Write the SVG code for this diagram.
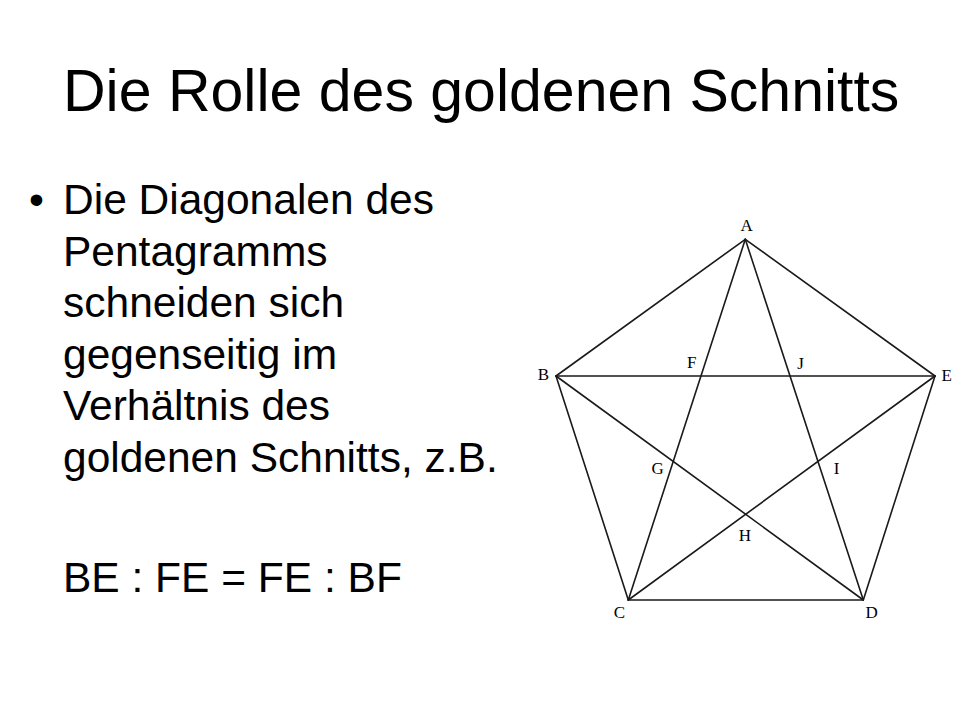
<svg xmlns="http://www.w3.org/2000/svg" width="960" height="720" viewBox="0 0 960 720">
<style>
.title{font-family:"Liberation Sans",Arial,sans-serif;font-size:59px;fill:#000}
.body{font-family:"Liberation Sans",Arial,sans-serif;font-size:42.5px;fill:#000}
.lbl{font-family:"Liberation Serif","Times New Roman",serif;font-size:17px;fill:#000;text-anchor:middle}
.edge{stroke:#1a1a1a;stroke-width:1.6;fill:none;stroke-linecap:round}
</style>
<rect width="960" height="720" fill="#fff"/>
<text class="title" x="63" y="111">Die Rolle des goldenen Schnitts</text>
<g id="text">
<text class="body" x="29" y="214">•</text>
<text class="body" x="63" y="214">Die Diagonalen des</text>
<text class="body" x="63" y="265.5">Pentagramms</text>
<text class="body" x="63" y="317">schneiden sich</text>
<text class="body" x="63" y="368.5">gegenseitig im</text>
<text class="body" x="63" y="420">Verhältnis des</text>
<text class="body" x="63" y="471.5">goldenen Schnitts, z.B.</text>
<text class="body" x="63" y="592">BE : FE = FE : BF</text>
</g>
<g id="connectors">
<line class="edge" x1="745.3" y1="239.3" x2="556" y2="376"/>
<line class="edge" x1="745.3" y1="239.3" x2="935" y2="376"/>
<line class="edge" x1="556" y1="376" x2="628.3" y2="600"/>
<line class="edge" x1="935" y1="376" x2="863.3" y2="600"/>
<line class="edge" x1="628.3" y1="600" x2="863.3" y2="600"/>
<line class="edge" x1="556" y1="376" x2="935" y2="376"/>
<line class="edge" x1="745.3" y1="239.3" x2="628.3" y2="600"/>
<line class="edge" x1="745.3" y1="239.3" x2="863.3" y2="600"/>
<line class="edge" x1="556" y1="376" x2="863.3" y2="600"/>
<line class="edge" x1="935" y1="376" x2="628.3" y2="600"/>
</g>
<g id="node-A"><text class="lbl" x="746.7" y="231">A</text></g>
<g id="node-B"><text class="lbl" x="543.3" y="380">B</text></g>
<g id="node-E"><text class="lbl" x="946.7" y="381">E</text></g>
<g id="node-C"><text class="lbl" x="619.5" y="617.5">C</text></g>
<g id="node-D"><text class="lbl" x="871.7" y="617.5">D</text></g>
<g id="node-F"><text class="lbl" x="691.7" y="368">F</text></g>
<g id="node-J"><text class="lbl" x="800.5" y="369">J</text></g>
<g id="node-G"><text class="lbl" x="657.7" y="473.5">G</text></g>
<g id="node-I"><text class="lbl" x="836.7" y="473.5">I</text></g>
<g id="node-H"><text class="lbl" x="745" y="541">H</text></g>
</svg>
